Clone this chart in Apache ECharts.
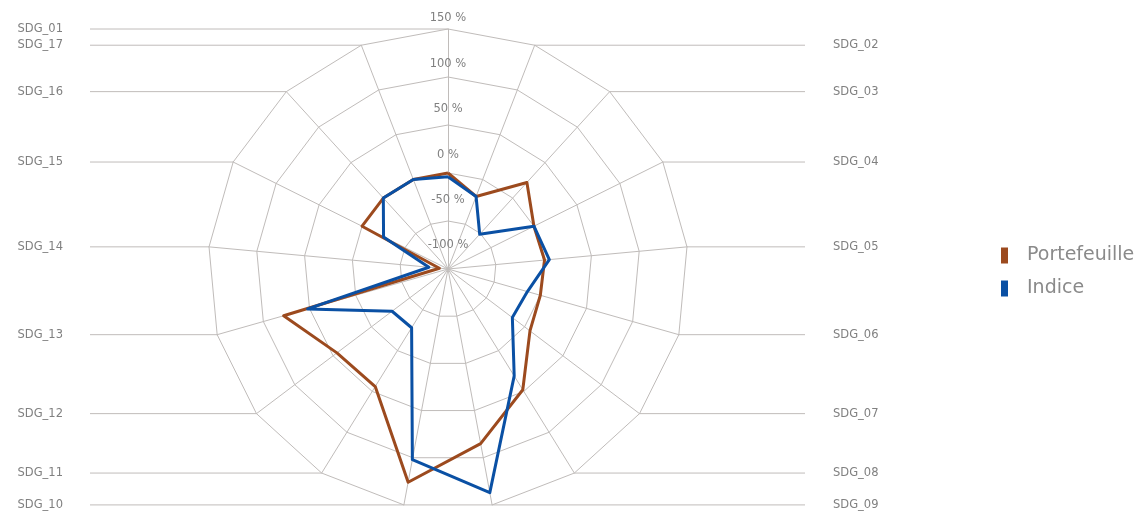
<!DOCTYPE html>
<html><head><meta charset="utf-8">
<script src="https://cdn.jsdelivr.net/npm/echarts@6/dist/echarts.min.js"></script>
<style>html,body{margin:0;padding:0;background:#fff}#c{width:1140px;height:518px}</style>
</head><body><div id="c"></div>
<script>
const categories = ['SDG_01','SDG_02','SDG_03','SDG_04','SDG_05','SDG_06','SDG_07','SDG_08','SDG_09','SDG_10','SDG_11','SDG_12','SDG_13','SDG_14','SDG_15','SDG_16','SDG_17'];
const portefeuille = [0, -19, 22, 0, 1, 0, 7, 48, 85, 126, 44, 45, 78, -91, 0, 0, 0];
const indice = [-4, -19, -51, 0, 6, -14, -16, 31, 137, 102, -28, -27, 52, -80, -25, 0, 0];
const tickLabels = ['-100 %', '-50 %', '0 %', '50 %', '100 %', '150 %'];
const seriesNames = ['Portefeuille', 'Indice'];
const axisMin = -100, axisMax = 150;

const FONT = 'DejaVu Sans';
const GRID = '#c0bcba';
const TXT = '#808080';
const cx = 448, cy = 269, R = 240;

// ECharts lays radar indicators counter-clockwise; reference is clockwise
const order = [0].concat(categories.map((_, i) => i).slice(1).reverse());

// per-tick lift of the label above its ring (style only)
const lift = [18, 15, 12, 10, 7, 5];
const rich = {};
lift.forEach((p, k) => {
  rich['t' + k] = { color: TXT, fontFamily: FONT, fontSize: 11.5, padding: [0, 0, p, 0] };
});

const indicator = order.map((i, k) => {
  const o = { name: categories[i], min: axisMin, max: axisMax };
  if (k === 0) {
    o.axisLabel = {
      show: true,
      formatter: (v, idx) => {
        const j = Math.round((v - axisMin) / 50);
        return '{t' + j + '|' + tickLabels[j] + '}';
      },
      color: TXT, fontFamily: FONT, fontSize: 11.5,
      align: 'center', verticalAlign: 'bottom', margin: 0,
      rich: rich
    };
  }
  return o;
});

// leader lines + category labels
const graphics = [];
const n = categories.length;
categories.forEach((name, i) => {
  const th = i * 2 * Math.PI / n;
  const vx = cx + R * Math.sin(th);
  const vy = cy - R * Math.cos(th);
  const left = (i === 0) || vx < cx;
  graphics.push({
    type: 'line', silent: true,
    shape: left ? { x1: 90, y1: vy, x2: vx, y2: vy } : { x1: vx, y1: vy, x2: 805, y2: vy },
    style: { stroke: GRID, lineWidth: 1 }
  });
  graphics.push({
    type: 'text', silent: true,
    x: left ? 63 : 833, y: vy,
    style: {
      text: name, fill: TXT, font: '11.5px "' + FONT + '"',
      align: left ? 'right' : 'left', textAlign: left ? 'right' : 'left',
      verticalAlign: 'middle', textVerticalAlign: 'middle'
    }
  });
});

const chart = echarts.init(document.getElementById('c'), null, { renderer: 'canvas' });
chart.setOption({
  animation: false,
  backgroundColor: '#ffffff',
  color: ['#9C4A1E', '#0A50A4'],
  legend: {
    orient: 'vertical', left: 1001, top: 246, padding: 0,
    itemWidth: 7, itemHeight: 16, itemGap: 14, icon: 'rect',
    textStyle: { fontFamily: FONT, fontSize: 19, color: '#8a8a8a', padding: [0, 0, 0, 14], lineHeight: 16 },
    data: seriesNames
  },
  radar: {
    center: [cx, cy], radius: R, startAngle: 90, shape: 'polygon', splitNumber: 5,
    axisName: { show: false },
    splitLine: { lineStyle: { color: GRID, width: 1 } },
    splitArea: { show: false },
    axisLine: { lineStyle: { color: GRID, width: 1 } },
    axisTick: { show: false },
    axisLabel: { show: false },
    indicator: indicator
  },
  graphic: graphics,
  series: [{
    type: 'radar',
    symbol: 'none',
    lineStyle: { width: 3 },
    data: [
      { name: seriesNames[0], value: order.map(i => portefeuille[i]) },
      { name: seriesNames[1], value: order.map(i => indice[i]) }
    ]
  }]
});
</script>
</body></html>
